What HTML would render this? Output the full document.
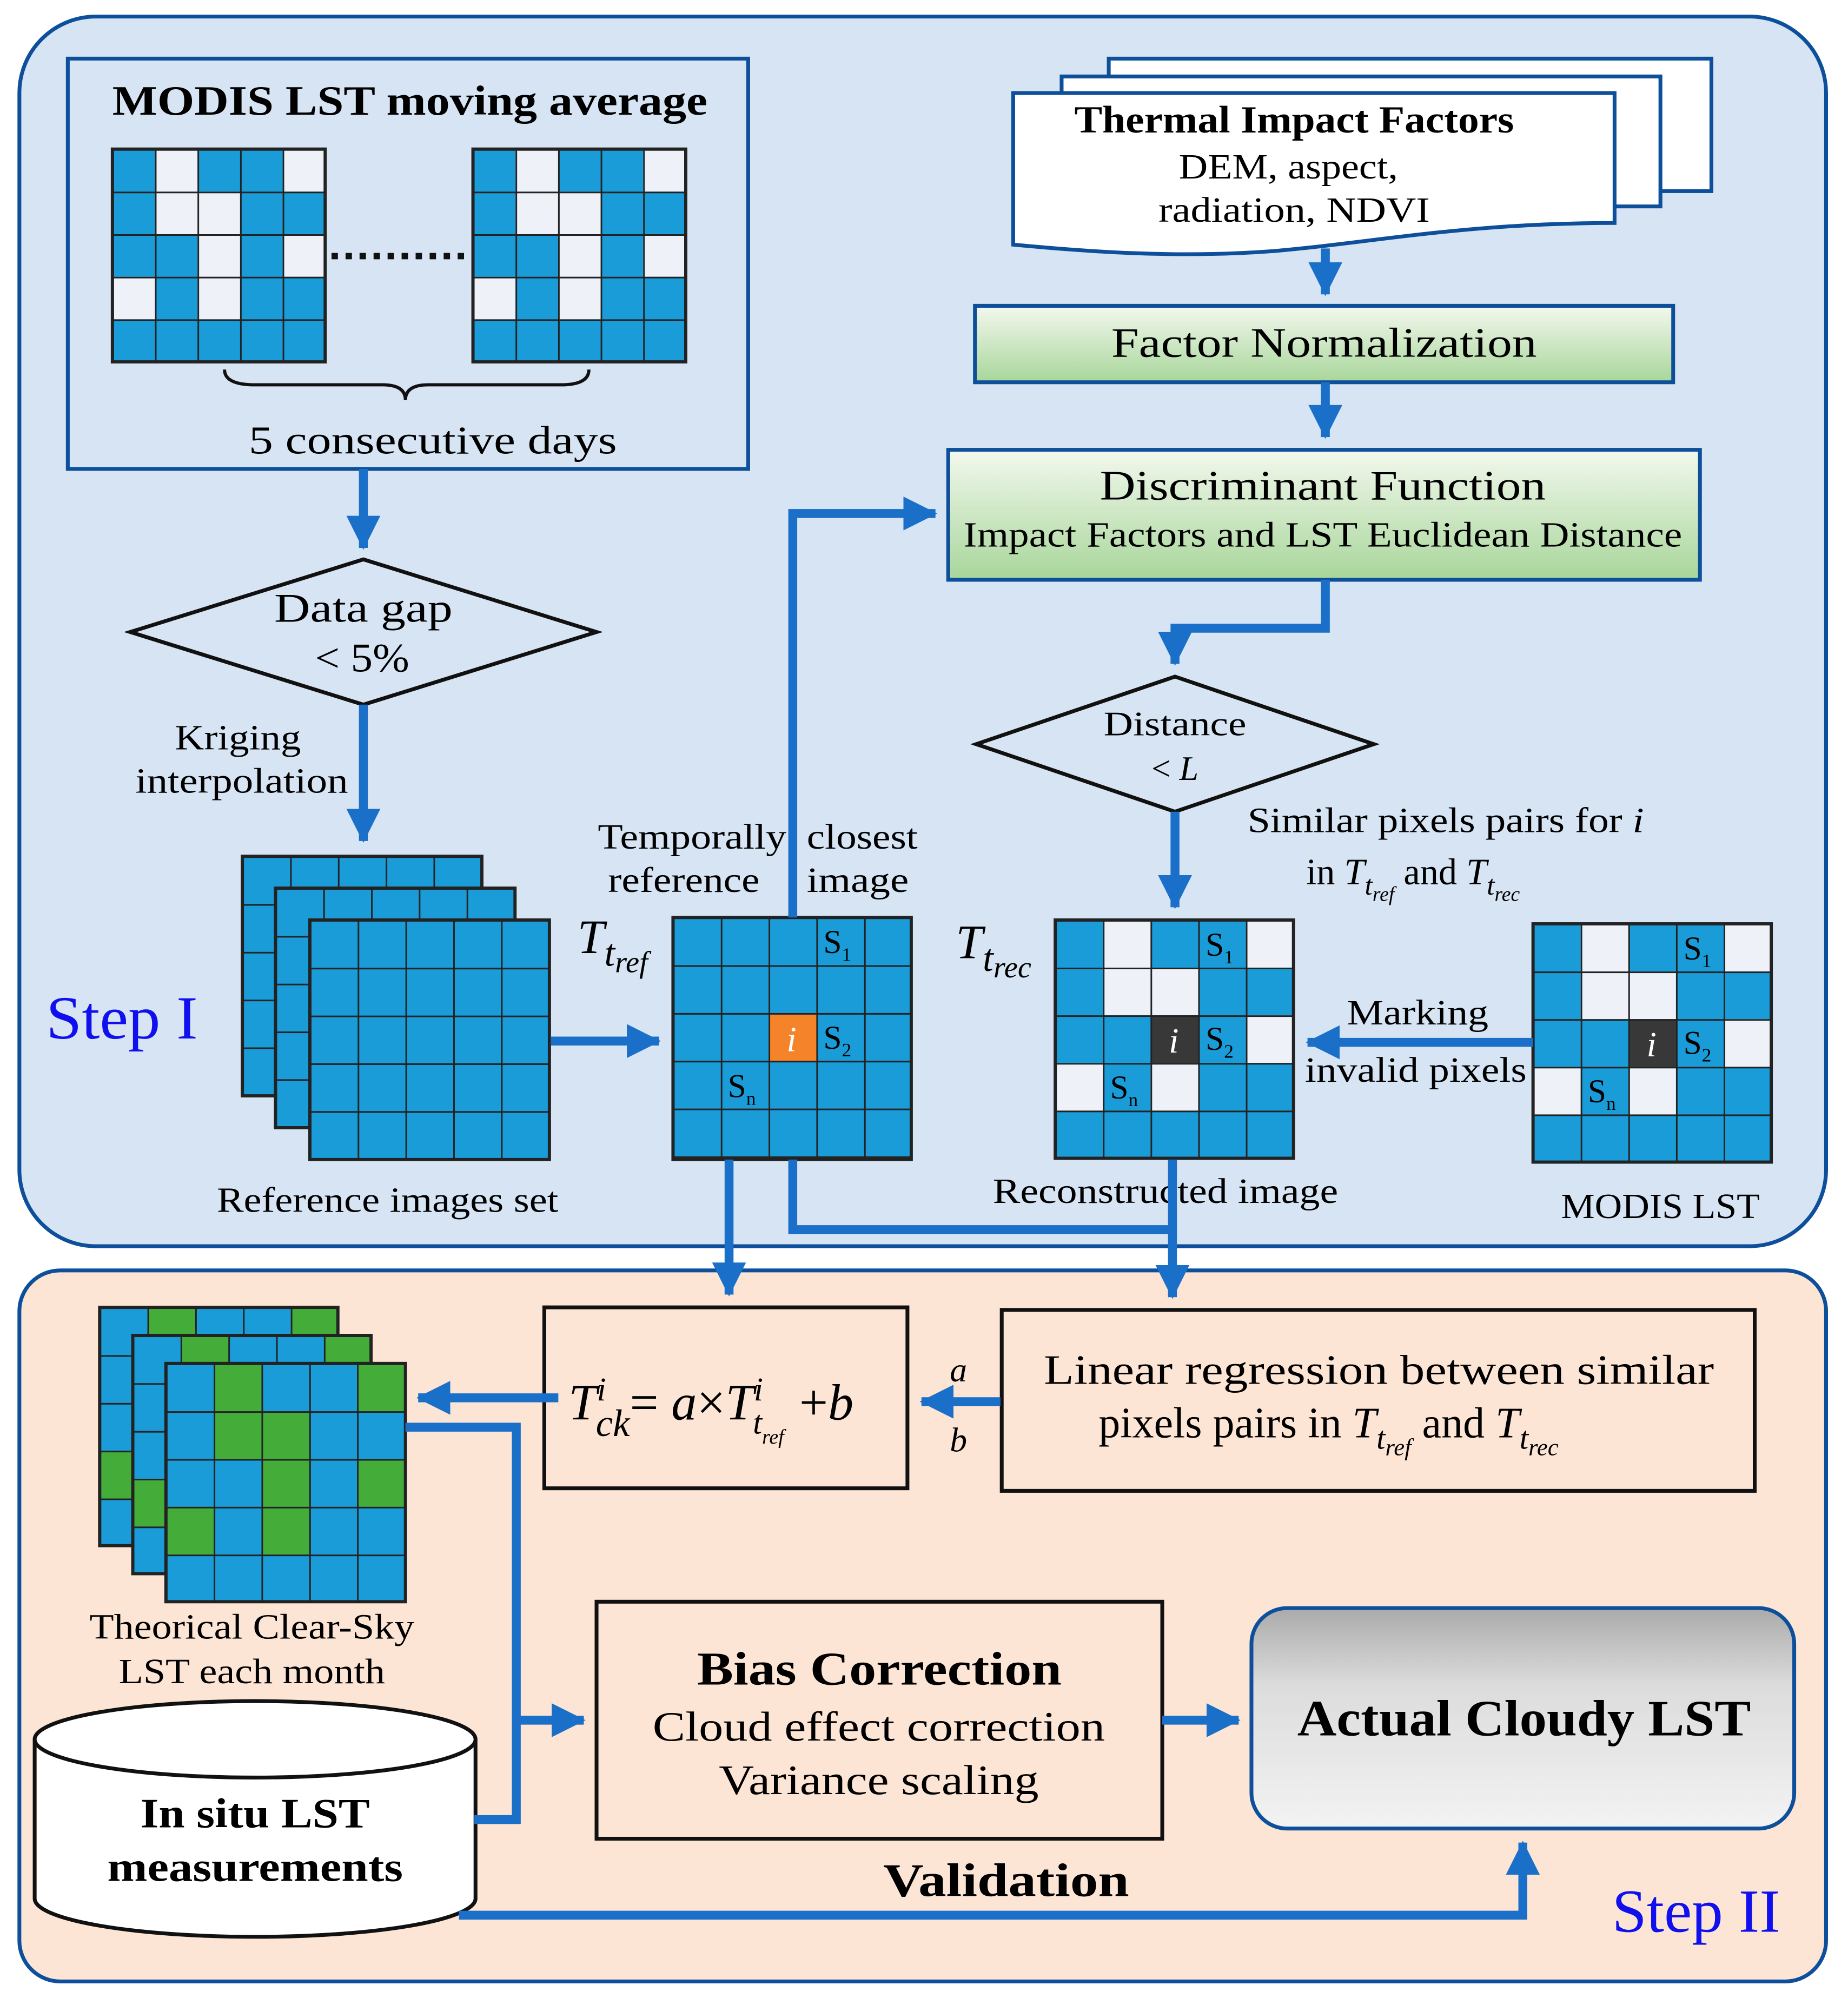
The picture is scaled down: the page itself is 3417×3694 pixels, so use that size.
<!DOCTYPE html>
<html><head><meta charset="utf-8"><style>
html,body{margin:0;padding:0;background:#fff}
svg{display:block}
text{font-family:"Liberation Serif",serif;fill:#000}
</style></head><body>
<svg width="3417" height="3694" viewBox="0 0 1450 1568" xmlns="http://www.w3.org/2000/svg">
<defs>
<linearGradient id="gg" x1="0" y1="0" x2="0" y2="1"><stop offset="0" stop-color="#f3f8ee"/><stop offset="1" stop-color="#a8d69a"/></linearGradient>
<linearGradient id="gr" x1="0" y1="0" x2="0" y2="1"><stop offset="0" stop-color="#aaaaaa"/><stop offset="0.35" stop-color="#dcdcdc"/><stop offset="1" stop-color="#f3f3f3"/></linearGradient>
<marker id="ah" markerWidth="5" markerHeight="5" refX="3.6" refY="2" orient="auto" markerUnits="strokeWidth"><path d="M0,0.1 L3.8,2 L0,3.9 Z" fill="#1a6fc9"/></marker>
<pattern id="p1" x="88" y="117" width="33.4" height="33.4" patternUnits="userSpaceOnUse"><path d="M0 0H33.4M0 0V33.4" stroke="#222" stroke-width="2.5" fill="none"/></pattern>
<pattern id="p2" x="371" y="117" width="33.4" height="33.4" patternUnits="userSpaceOnUse"><path d="M0 0H33.4M0 0V33.4" stroke="#222" stroke-width="2.5" fill="none"/></pattern>
<pattern id="r1" x="190" y="672" width="37.5" height="37.5" patternUnits="userSpaceOnUse"><path d="M0 0H37.5M0 0V37.5" stroke="#222" stroke-width="2.5" fill="none"/></pattern>
<pattern id="r2" x="216" y="697" width="37.5" height="37.5" patternUnits="userSpaceOnUse"><path d="M0 0H37.5M0 0V37.5" stroke="#222" stroke-width="2.5" fill="none"/></pattern>
<pattern id="r3" x="243" y="722" width="37.5" height="37.5" patternUnits="userSpaceOnUse"><path d="M0 0H37.5M0 0V37.5" stroke="#222" stroke-width="2.5" fill="none"/></pattern>
<pattern id="pt" x="528" y="720" width="37.5" height="37.5" patternUnits="userSpaceOnUse"><path d="M0 0H37.5M0 0V37.5" stroke="#222" stroke-width="2.5" fill="none"/></pattern>
<pattern id="pr" x="828" y="722" width="37.4" height="37.4" patternUnits="userSpaceOnUse"><path d="M0 0H37.4M0 0V37.4" stroke="#222" stroke-width="2.5" fill="none"/></pattern>
<pattern id="pm" x="1203" y="725" width="37.4" height="37.4" patternUnits="userSpaceOnUse"><path d="M0 0H37.4M0 0V37.4" stroke="#222" stroke-width="2.5" fill="none"/></pattern>
<pattern id="g1" x="78" y="1026" width="37.5" height="37.5" patternUnits="userSpaceOnUse"><path d="M0 0H37.5M0 0V37.5" stroke="#222" stroke-width="2.5" fill="none"/></pattern>
<pattern id="g2" x="104" y="1048" width="37.5" height="37.5" patternUnits="userSpaceOnUse"><path d="M0 0H37.5M0 0V37.5" stroke="#222" stroke-width="2.5" fill="none"/></pattern>
<pattern id="g3" x="130" y="1070" width="37.5" height="37.5" patternUnits="userSpaceOnUse"><path d="M0 0H37.5M0 0V37.5" stroke="#222" stroke-width="2.5" fill="none"/></pattern>
</defs>
<rect width="1450" height="1568" fill="#fff"/>
<rect x="15" y="13" width="1418" height="965" rx="60" fill="#d7e4f3" stroke="#0d4f9a" stroke-width="3"/>
<rect x="15" y="997" width="1418" height="558" rx="32" fill="#fde5d6" stroke="#0d4f9a" stroke-width="3"/>

<rect x="53" y="46" width="534" height="322" fill="none" stroke="#0d4f9a" stroke-width="3"/>
<text x="88" y="90" font-size="33" font-weight="bold" textLength="467" lengthAdjust="spacingAndGlyphs">MODIS LST moving average</text>
<g fill="#eef2f8">
<rect x="88" y="117" width="167" height="167" fill="#199cd8"/>
<rect x="121.4" y="117" width="33.4" height="33.4"/><rect x="221.6" y="117" width="33.4" height="33.4"/>
<rect x="121.4" y="150.4" width="33.4" height="33.4"/><rect x="154.8" y="150.4" width="33.4" height="33.4"/>
<rect x="154.8" y="183.8" width="33.4" height="33.4"/><rect x="221.6" y="183.8" width="33.4" height="33.4"/>
<rect x="88" y="217.2" width="33.4" height="33.4"/><rect x="154.8" y="217.2" width="33.4" height="33.4"/>
<rect x="88" y="117" width="167" height="167" fill="url(#p1)" stroke="#222" stroke-width="2.5"/>
<rect x="371" y="117" width="167" height="167" fill="#199cd8"/>
<rect x="404.4" y="117" width="33.4" height="33.4"/><rect x="504.6" y="117" width="33.4" height="33.4"/>
<rect x="404.4" y="150.4" width="33.4" height="33.4"/><rect x="437.8" y="150.4" width="33.4" height="33.4"/>
<rect x="437.8" y="183.8" width="33.4" height="33.4"/><rect x="504.6" y="183.8" width="33.4" height="33.4"/>
<rect x="371" y="217.2" width="33.4" height="33.4"/><rect x="437.8" y="217.2" width="33.4" height="33.4"/>
<rect x="371" y="117" width="167" height="167" fill="url(#p2)" stroke="#222" stroke-width="2.5"/>
</g>
<line x1="260" y1="201" x2="367" y2="201" stroke="#111" stroke-width="5" stroke-dasharray="5,6"/>
<path d="M176 290 Q176 302 200 302 L300 302 Q318 302 318 314 Q318 302 336 302 L440 302 Q462 302 462 290" fill="none" stroke="#111" stroke-width="2.5"/>
<text x="195" y="356" font-size="31" textLength="289" lengthAdjust="spacingAndGlyphs">5 consecutive days</text>

<rect x="870" y="46" width="473" height="104" fill="#fff" stroke="#0d4f9a" stroke-width="3"/>
<rect x="833" y="60" width="470" height="102" fill="#fff" stroke="#0d4f9a" stroke-width="3"/>
<path d="M795 73 H1267 V175 C1150 175 1080 190 1000 197 C920 203 850 197 795 192 Z" fill="#fff" stroke="#0d4f9a" stroke-width="3"/>
<text x="843" y="104" font-size="30" font-weight="bold" textLength="345" lengthAdjust="spacingAndGlyphs">Thermal Impact Factors</text>
<text x="925" y="140" font-size="28" textLength="172" lengthAdjust="spacingAndGlyphs">DEM, aspect,</text>
<text x="909" y="174" font-size="28" textLength="213" lengthAdjust="spacingAndGlyphs">radiation, NDVI</text>

<rect x="765" y="240" width="548" height="60" fill="url(#gg)" stroke="#0d4f9a" stroke-width="3"/>
<text x="872" y="280" font-size="33" textLength="334" lengthAdjust="spacingAndGlyphs">Factor Normalization</text>
<rect x="744" y="353" width="590" height="102" fill="url(#gg)" stroke="#0d4f9a" stroke-width="3"/>
<text x="863" y="392" font-size="33" textLength="350" lengthAdjust="spacingAndGlyphs">Discriminant Function</text>
<text x="756" y="429" font-size="28" textLength="564" lengthAdjust="spacingAndGlyphs">Impact Factors and LST Euclidean Distance</text>

<polygon points="102,496 285,439 468,496 285,553" fill="none" stroke="#111" stroke-width="3"/>
<text x="215" y="488" font-size="32" textLength="140" lengthAdjust="spacingAndGlyphs">Data gap</text>
<text x="247" y="527" font-size="32" textLength="74" lengthAdjust="spacingAndGlyphs">&lt; 5%</text>
<text x="137" y="588" font-size="28" textLength="99" lengthAdjust="spacingAndGlyphs">Kriging</text>
<text x="106" y="622" font-size="28" textLength="167" lengthAdjust="spacingAndGlyphs">interpolation</text>

<polygon points="766,584 922,531 1078,584 922,637" fill="none" stroke="#111" stroke-width="3"/>
<text x="866" y="577" font-size="27" textLength="112" lengthAdjust="spacingAndGlyphs">Distance</text>
<text x="922" y="612" font-size="27" text-anchor="middle">&lt; <tspan font-style="italic">L</tspan></text>
<text x="979" y="653" font-size="28" textLength="311" lengthAdjust="spacingAndGlyphs">Similar pixels pairs for <tspan font-style="italic">i</tspan></text>
<text x="1025" y="694" font-size="29">in <tspan font-style="italic">T</tspan><tspan font-style="italic" font-size="22" dy="8">t</tspan><tspan font-style="italic" font-size="16" dy="5">ref</tspan><tspan dy="-13">  and </tspan><tspan font-style="italic">T</tspan><tspan font-style="italic" font-size="22" dy="8">t</tspan><tspan font-style="italic" font-size="16" dy="5">rec</tspan></text>

<rect x="190" y="672" width="188" height="188" fill="#199cd8"/><rect x="190" y="672" width="188" height="188" fill="url(#r1)" stroke="#222" stroke-width="2.5"/>
<rect x="216" y="697" width="188" height="188" fill="#199cd8"/><rect x="216" y="697" width="188" height="188" fill="url(#r2)" stroke="#222" stroke-width="2.5"/>
<rect x="243" y="722" width="188" height="188" fill="#199cd8"/><rect x="243" y="722" width="188" height="188" fill="url(#r3)" stroke="#222" stroke-width="2.5"/>
<text x="170" y="951" font-size="28" textLength="268" lengthAdjust="spacingAndGlyphs">Reference images set</text>
<text x="36" y="815" font-size="48" textLength="119" lengthAdjust="spacingAndGlyphs" style="fill:#1010ee">Step I</text>

<text x="469" y="666" font-size="28" textLength="148" lengthAdjust="spacingAndGlyphs">Temporally</text>
<text x="633" y="666" font-size="28" textLength="87" lengthAdjust="spacingAndGlyphs">closest</text>
<text x="477" y="700" font-size="28" textLength="119" lengthAdjust="spacingAndGlyphs">reference</text>
<text x="633" y="700" font-size="28" textLength="80" lengthAdjust="spacingAndGlyphs">image</text>
<text x="453" y="748" font-size="38" font-style="italic">T<tspan font-size="30" dy="10">t</tspan><tspan font-size="24" dy="5">ref</tspan></text>
<rect x="528" y="720" width="187" height="190" fill="#199cd8"/>
<rect x="603" y="795" width="37.5" height="37.5" fill="#f5832a"/>
<rect x="528" y="720" width="187" height="190" fill="url(#pt)" stroke="#222" stroke-width="2.5"/>
<text x="621" y="825" font-size="28" font-style="italic" text-anchor="middle" style="fill:#fff">i</text>
<text x="646" y="748" font-size="26">S<tspan font-size="15" dy="6">1</tspan></text>
<text x="646" y="823" font-size="26">S<tspan font-size="15" dy="6">2</tspan></text>
<text x="571" y="861" font-size="26">S<tspan font-size="15" dy="6">n</tspan></text>

<text x="750" y="752" font-size="38" font-style="italic">T<tspan font-size="30" dy="10">t</tspan><tspan font-size="24" dy="5">rec</tspan></text>
<g fill="#eef2f8">
<rect x="828" y="722" width="187" height="187" fill="#199cd8"/>
<rect x="865.4" y="722" width="37.4" height="37.4"/><rect x="977.6" y="722" width="37.4" height="37.4"/>
<rect x="865.4" y="759.4" width="37.4" height="37.4"/><rect x="902.8" y="759.4" width="37.4" height="37.4"/>
<rect x="977.6" y="796.8" width="37.4" height="37.4"/>
<rect x="828" y="834.2" width="37.4" height="37.4"/><rect x="902.8" y="834.2" width="37.4" height="37.4"/>
<rect x="902.8" y="796.8" width="37.4" height="37.4" fill="#383838"/>
<rect x="828" y="722" width="187" height="187" fill="url(#pr)" stroke="#222" stroke-width="2.5"/>
<rect x="1203" y="725" width="187" height="187" fill="#199cd8"/>
<rect x="1240.4" y="725" width="37.4" height="37.4"/><rect x="1352.6" y="725" width="37.4" height="37.4"/>
<rect x="1240.4" y="762.4" width="37.4" height="37.4"/><rect x="1277.8" y="762.4" width="37.4" height="37.4"/>
<rect x="1352.6" y="799.8" width="37.4" height="37.4"/>
<rect x="1203" y="837.2" width="37.4" height="37.4"/><rect x="1277.8" y="837.2" width="37.4" height="37.4"/>
<rect x="1277.8" y="799.8" width="37.4" height="37.4" fill="#383838"/>
<rect x="1203" y="725" width="187" height="187" fill="url(#pm)" stroke="#222" stroke-width="2.5"/>
</g>
<text x="921" y="826" font-size="28" font-style="italic" text-anchor="middle" style="fill:#fff">i</text>
<text x="946" y="750" font-size="26">S<tspan font-size="15" dy="6">1</tspan></text>
<text x="946" y="824" font-size="26">S<tspan font-size="15" dy="6">2</tspan></text>
<text x="871" y="862" font-size="26">S<tspan font-size="15" dy="6">n</tspan></text>
<text x="1296" y="829" font-size="28" font-style="italic" text-anchor="middle" style="fill:#fff">i</text>
<text x="1321" y="753" font-size="26">S<tspan font-size="15" dy="6">1</tspan></text>
<text x="1321" y="827" font-size="26">S<tspan font-size="15" dy="6">2</tspan></text>
<text x="1246" y="865" font-size="26">S<tspan font-size="15" dy="6">n</tspan></text>
<text x="1057" y="804" font-size="28" textLength="111" lengthAdjust="spacingAndGlyphs">Marking</text>
<text x="1024" y="849" font-size="28" textLength="174" lengthAdjust="spacingAndGlyphs">invalid pixels</text>
<text x="779" y="944" font-size="28" textLength="271" lengthAdjust="spacingAndGlyphs">Reconstructed image</text>
<text x="1225" y="956" font-size="28" textLength="156" lengthAdjust="spacingAndGlyphs">MODIS LST</text>

<rect x="78" y="1026" width="187" height="187" fill="#199cd8"/>
<g fill="#44ad3a">
<rect x="115.5" y="1026" width="37.5" height="37.5"/><rect x="228" y="1026" width="37.5" height="37.5"/>
<rect x="78" y="1138.5" width="37.5" height="37.5"/>
</g>
<rect x="78" y="1026" width="187" height="187" fill="url(#g1)" stroke="#222" stroke-width="2.5"/>
<rect x="104" y="1048" width="187" height="187" fill="#199cd8"/>
<g fill="#44ad3a">
<rect x="141.5" y="1048" width="37.5" height="37.5"/><rect x="254" y="1048" width="37.5" height="37.5"/>
<rect x="104" y="1160.5" width="37.5" height="37.5"/>
</g>
<rect x="104" y="1048" width="187" height="187" fill="url(#g2)" stroke="#222" stroke-width="2.5"/>
<rect x="130" y="1070" width="188" height="187" fill="#199cd8"/>
<g fill="#44ad3a">
<rect x="167.5" y="1070" width="37.5" height="37.5"/><rect x="280" y="1070" width="37.5" height="37.5"/>
<rect x="167.5" y="1107.5" width="37.5" height="37.5"/><rect x="205" y="1107.5" width="37.5" height="37.5"/>
<rect x="205" y="1145" width="37.5" height="37.5"/><rect x="280" y="1145" width="37.5" height="37.5"/>
<rect x="130" y="1182.5" width="37.5" height="37.5"/><rect x="205" y="1182.5" width="37.5" height="37.5"/>
</g>
<rect x="130" y="1070" width="188" height="187" fill="url(#g3)" stroke="#222" stroke-width="2.5"/>
<text x="70" y="1286" font-size="28" textLength="255" lengthAdjust="spacingAndGlyphs">Theorical Clear-Sky</text>
<text x="93" y="1321" font-size="28" textLength="209" lengthAdjust="spacingAndGlyphs">LST each month</text>

<rect x="427" y="1026" width="285" height="142" fill="none" stroke="#111" stroke-width="3"/>
<text x="446" y="1114" font-size="40" font-style="italic">T<tspan font-size="26" dy="-15">i</tspan><tspan font-size="30" dx="-8" dy="28">ck</tspan><tspan font-style="normal" dy="-13">= </tspan>a<tspan font-style="normal">×</tspan>T<tspan font-size="26" dy="-15">i</tspan><tspan font-size="26" dx="-8" dy="26">t</tspan><tspan font-size="16" dy="8">ref</tspan><tspan dx="12" dy="-19" font-style="normal">+</tspan>b</text>
<text x="752" y="1084" font-size="27" font-style="italic" text-anchor="middle">a</text>
<text x="752" y="1139" font-size="27" font-style="italic" text-anchor="middle">b</text>

<rect x="786" y="1028" width="591" height="142" fill="none" stroke="#111" stroke-width="3"/>
<text x="819" y="1086" font-size="33" textLength="526" lengthAdjust="spacingAndGlyphs">Linear regression between similar</text>
<text x="862" y="1128" font-size="34">pixels pairs in <tspan font-style="italic">T</tspan><tspan font-style="italic" font-size="25" dy="9">t</tspan><tspan font-style="italic" font-size="19" dy="5">ref</tspan><tspan dy="-14"> and </tspan><tspan font-style="italic">T</tspan><tspan font-style="italic" font-size="25" dy="9">t</tspan><tspan font-style="italic" font-size="19" dy="5">rec</tspan></text>

<rect x="468" y="1257" width="444" height="186" fill="none" stroke="#111" stroke-width="3"/>
<text x="547" y="1322" font-size="37" font-weight="bold" textLength="286" lengthAdjust="spacingAndGlyphs">Bias Correction</text>
<text x="512" y="1366" font-size="33" textLength="355" lengthAdjust="spacingAndGlyphs">Cloud effect correction</text>
<text x="564" y="1408" font-size="33" textLength="251" lengthAdjust="spacingAndGlyphs">Variance scaling</text>
<text x="693" y="1488" font-size="37" font-weight="bold" textLength="193" lengthAdjust="spacingAndGlyphs">Validation</text>

<rect x="982" y="1262" width="426" height="173" rx="28" fill="url(#gr)" stroke="#0d4f9a" stroke-width="3"/>
<text x="1018" y="1362" font-size="40" font-weight="bold" textLength="356" lengthAdjust="spacingAndGlyphs">Actual Cloudy LST</text>
<text x="1265" y="1516" font-size="48" textLength="132" lengthAdjust="spacingAndGlyphs" style="fill:#1010ee">Step II</text>

<path d="M27 1365 V1490 A173 30 0 0 0 373 1490 V1365" fill="#fff" stroke="#111" stroke-width="3"/>
<ellipse cx="200" cy="1365" rx="173" ry="30" fill="#fff" stroke="#111" stroke-width="3"/>
<text x="110" y="1434" font-size="33" font-weight="bold" textLength="180" lengthAdjust="spacingAndGlyphs">In situ LST</text>
<text x="84" y="1476" font-size="33" font-weight="bold" textLength="232" lengthAdjust="spacingAndGlyphs">measurements</text>

<g fill="none" stroke="#1a6fc9" stroke-width="7">
<path d="M285 368 V430" marker-end="url(#ah)"/>
<path d="M285 553 V660" marker-end="url(#ah)"/>
<path d="M432 817 H517" marker-end="url(#ah)"/>
<path d="M622 720 V403 H734" marker-end="url(#ah)"/>
<path d="M1040 195 V231" marker-end="url(#ah)"/>
<path d="M1040 300 V343" marker-end="url(#ah)"/>
<path d="M1040 455 V493 H922 V521" marker-end="url(#ah)"/>
<path d="M922 637 V712" marker-end="url(#ah)"/>
<path d="M1203 818 H1026" marker-end="url(#ah)"/>
<path d="M572 910 V1016" marker-end="url(#ah)"/>
<path d="M622 910 V965 H920"/>
<path d="M920 910 V1018" marker-end="url(#ah)"/>
<path d="M785 1100 H723" marker-end="url(#ah)"/>
<path d="M438 1097 H328" marker-end="url(#ah)"/>
<path d="M318 1120 H405 V1428 H372"/>
<path d="M405 1350 H458" marker-end="url(#ah)"/>
<path d="M912 1350 H972" marker-end="url(#ah)"/>
<path d="M360 1503 H1195 V1446" marker-end="url(#ah)"/>
</g>
</svg>
</body></html>
